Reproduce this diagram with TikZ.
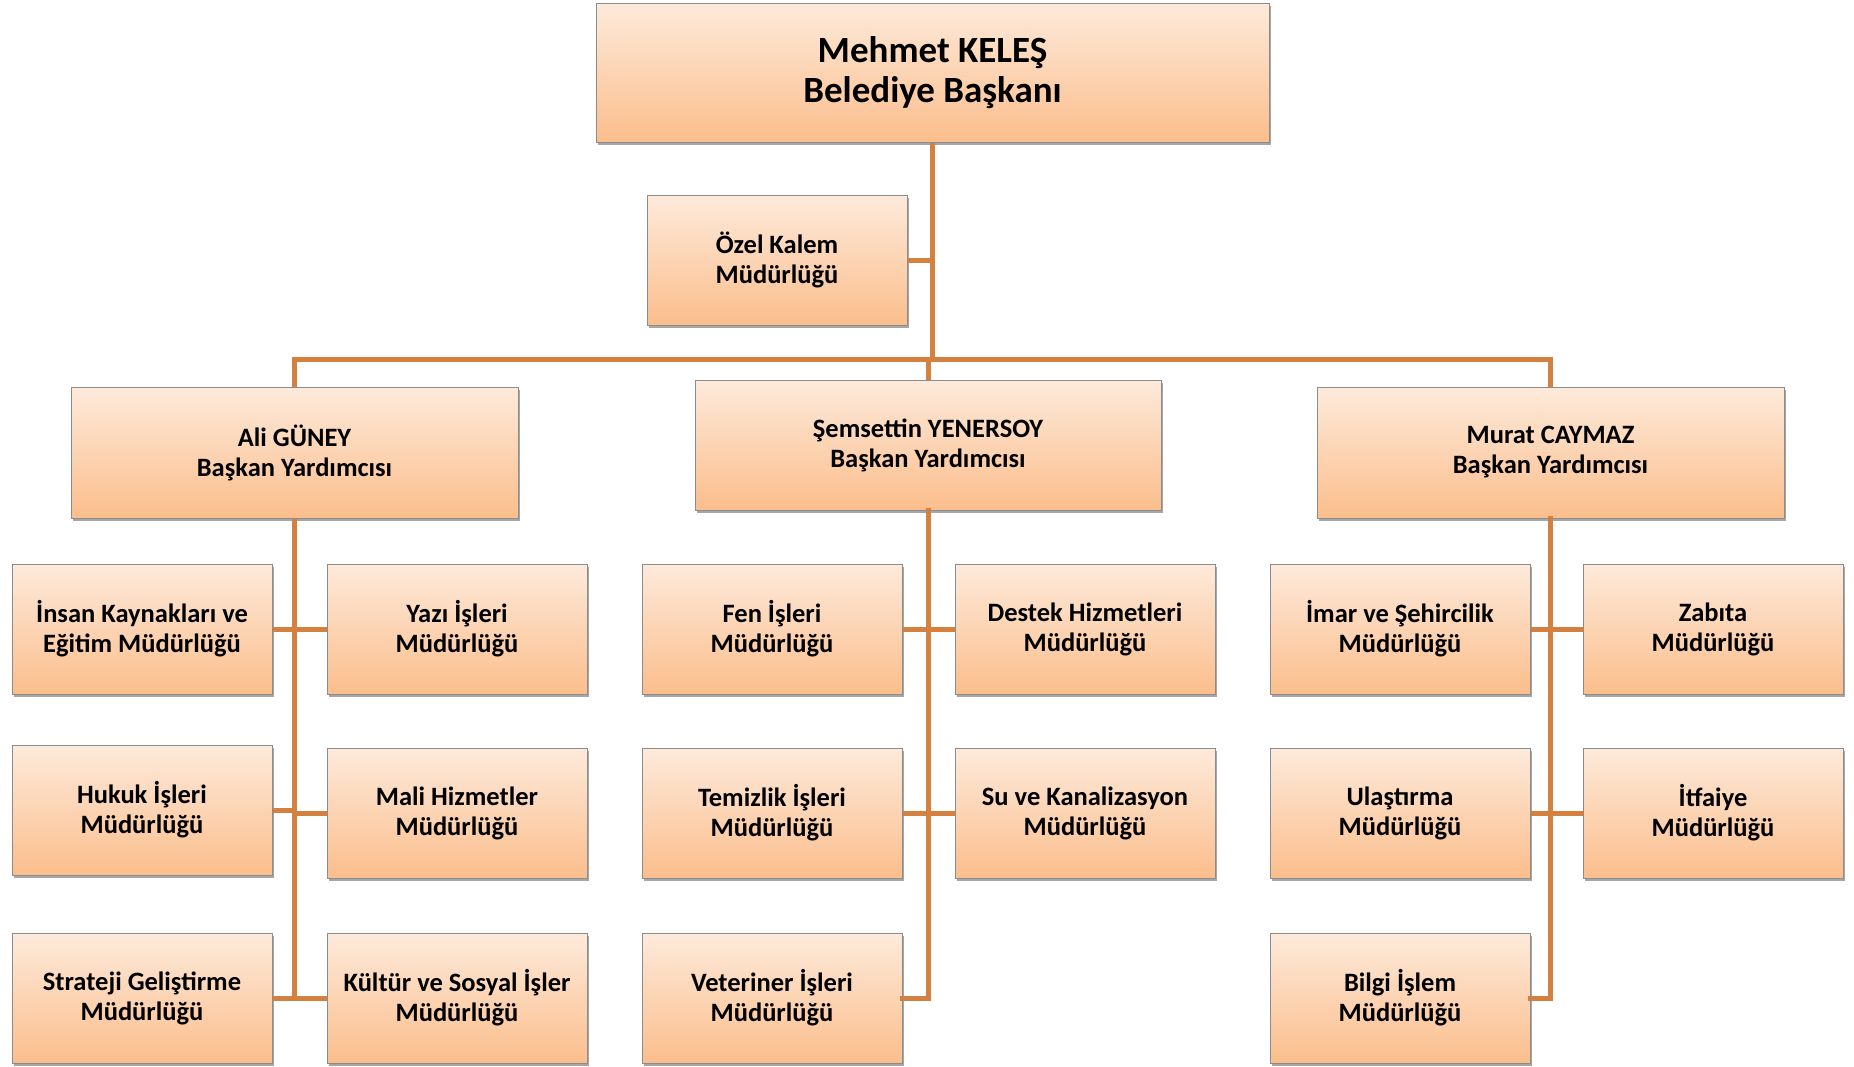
\documentclass[tikz,border=0pt]{standalone}
\usepackage{fontspec}
\setmainfont{Carlito}
\usetikzlibrary{shadows}
\definecolor{pTop}{RGB}{253,234,219}
\definecolor{pBot}{RGB}{251,190,140}
\definecolor{lnc}{RGB}{212,128,62}
\definecolor{bdr}{RGB}{140,140,140}
\tikzset{
  box/.style={draw=bdr, line width=1pt, top color=pTop, bottom color=pBot,
    align=center, inner sep=0pt, minimum width=260pt, minimum height=130pt,
    font=\fontsize{26.5}{30}\selectfont\bfseries,
    drop shadow={shadow xshift=1.5pt, shadow yshift=-3pt, opacity=0.35, fill=black}},
  conn/.style={draw=lnc, line width=5pt}
}
\begin{document}
\begin{tikzpicture}[x=1pt,y=1pt]
\useasboundingbox (0,0) rectangle (1854,-1066);
\coordinate (bus) at (0,-359);
% nodes
\node[box, minimum width=673pt, minimum height=139pt, font=\fontsize{37}{40}\selectfont\bfseries] (top) at (932.5,-72.5) {Mehmet KELEŞ\\Belediye Başkanı};
\node[box] (ozel) at (777,-260) {Özel Kalem\\Müdürlüğü};
\node[box, minimum width=447pt, minimum height=131pt] (lvp) at (294.5,-452.5) {Ali GÜNEY\\Başkan Yardımcısı};
\node[box, minimum width=466pt, minimum height=130pt] (mvp) at (928,-445) {Şemsettin YENERSOY\\Başkan Yardımcısı};
\node[box, minimum width=467pt, minimum height=131pt] (rvp) at (1550.5,-452.5) {Murat CAYMAZ\\Başkan Yardımcısı};
% left group
\node[box] (ik) at (142,-629) {İnsan Kaynakları ve\\Eğitim Müdürlüğü};
\node[box] (yazi) at (457,-629) {Yazı İşleri\\Müdürlüğü};
\node[box] (hukuk) at (142,-810) {Hukuk İşleri\\Müdürlüğü};
\node[box] (mali) at (457,-813) {Mali Hizmetler\\Müdürlüğü};
\node[box] (strat) at (142,-998) {Strateji Geliştirme\\Müdürlüğü};
\node[box] (kultur) at (457,-998) {Kültür ve Sosyal İşler\\Müdürlüğü};
% middle group
\node[box] (fen) at (772,-629) {Fen İşleri\\Müdürlüğü};
\node[box] (destek) at (1085,-629) {Destek Hizmetleri\\Müdürlüğü};
\node[box] (temiz) at (772,-813) {Temizlik İşleri\\Müdürlüğü};
\node[box] (su) at (1085,-813) {Su ve Kanalizasyon\\Müdürlüğü};
\node[box] (vet) at (772,-998) {Veteriner İşleri\\Müdürlüğü};
% right group
\node[box] (imar) at (1400,-629) {İmar ve Şehircilik\\Müdürlüğü};
\node[box] (zabita) at (1713,-629) {Zabıta\\Müdürlüğü};
\node[box] (ulas) at (1400,-813) {Ulaştırma\\Müdürlüğü};
\node[box] (itf) at (1713,-813) {İtfaiye\\Müdürlüğü};
\node[box] (bilgi) at (1400,-998) {Bilgi İşlem\\Müdürlüğü};
% connectors
\path[conn] (top.south) -- (top.south |- bus);
\path[conn] (ozel.east) -- (ozel.east -| top.south);
\path[conn, line cap=rect] (lvp.north |- bus) -- (rvp.north |- bus);
\path[conn] (lvp.north |- bus) -- (lvp.north);
\path[conn] (rvp.north |- bus) -- (rvp.north);
\path[conn] (mvp.north |- bus) -- (mvp.north);
% left group
\path[conn] (lvp.south) -- (lvp.south |- strat.east);
\path[conn] (ik.east) -- (yazi.west);
\path[conn] (hukuk.east) -- (hukuk.east -| lvp.south);
\path[conn] (mali.west) -- (mali.west -| lvp.south);
\path[conn] (strat.east) -- (kultur.west);
% middle group
\path[conn, line cap=rect] (mvp.south) -- (mvp.south |- vet.east) -- (vet.east);
\path[conn] (fen.east) -- (destek.west);
\path[conn] (temiz.east) -- (su.west);
% right group
\path[conn, line cap=rect] (rvp.south) -- (rvp.south |- bilgi.east) -- (bilgi.east);
\path[conn] (imar.east) -- (zabita.west);
\path[conn] (ulas.east) -- (itf.west);
\end{tikzpicture}
\end{document}
